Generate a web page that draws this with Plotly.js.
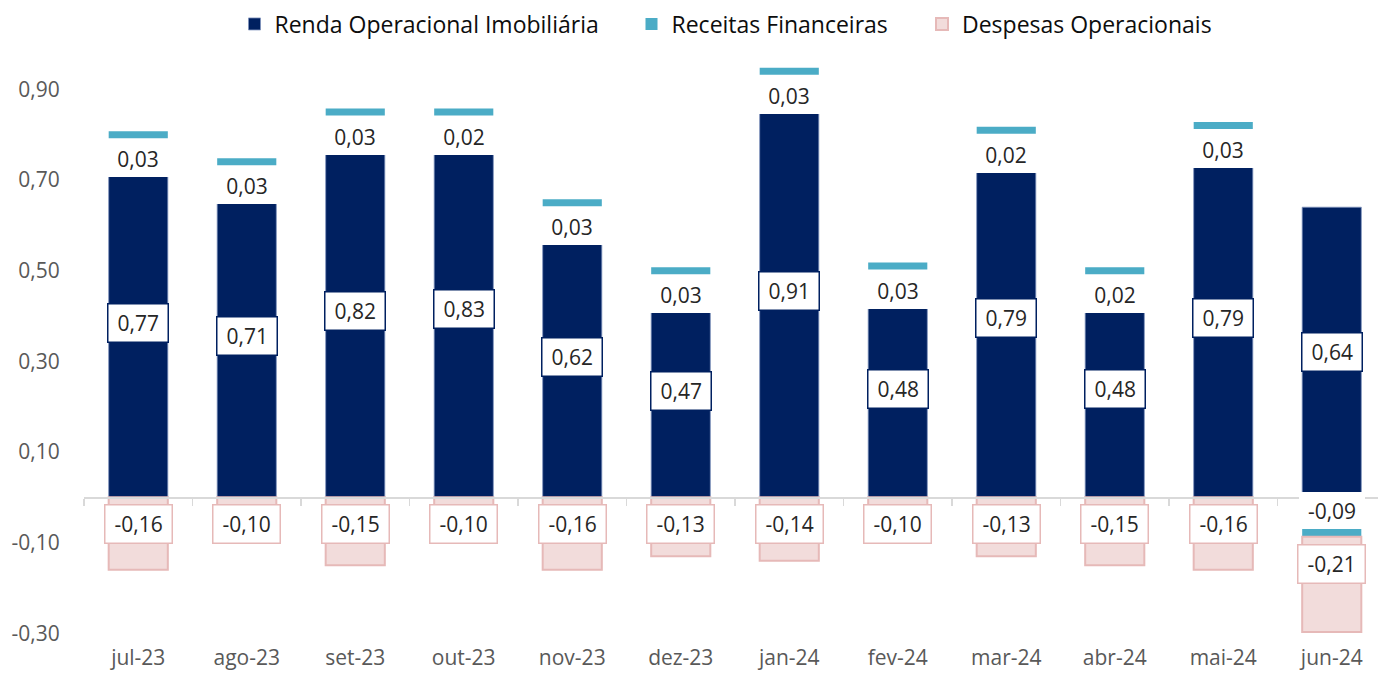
<!DOCTYPE html>
<html><head><meta charset="utf-8">
<script src="https://cdn.plot.ly/plotly-3.0.1.min.js"></script>
<style>html,body{margin:0;padding:0;background:#fff;} #chart{width:1378px;height:674px;}</style>
</head><body><div id="chart"></div>
<script>
// ---- data ----
const months = ['jul-23','ago-23','set-23','out-23','nov-23','dez-23','jan-24','fev-24','mar-24','abr-24','mai-24','jun-24'];
const rendaOperacional = [0.77,0.71,0.82,0.83,0.62,0.47,0.91,0.48,0.79,0.48,0.79,0.64];
const receitasFinanceiras = [0.03,0.03,0.03,0.02,0.03,0.03,0.03,0.03,0.02,0.02,0.03,-0.087];
const despesasOperacionais = [-0.16,-0.10,-0.15,-0.10,-0.16,-0.13,-0.14,-0.10,-0.13,-0.15,-0.16,-0.21];
const yTickVals = [-0.3,-0.1,0.1,0.3,0.5,0.7,0.9];
const yTickText = ['-0,30','-0,10','0,10','0,30','0,50','0,70','0,90'];
const seriesNames = ['Renda Operacional Imobiliária','Receitas Financeiras','Despesas Operacionais'];

// ---- styling / layout constants ----
const W = 1378, H = 674;
const plotLeft = 84, plotTop = 50, plotBottom = 650;
const catPx = 108.5, pxPerUnit = 453.3, zeroPx = 497.3;
const FONT = '"Open Sans", "Noto Sans", sans-serif';
const NAVY = '#002060', CYAN = '#4bacc6', PINK = '#f2dcdb', PINKLINE = '#e6b9b8';
const barW = 0.545;
const cyanT = 7 / pxPerUnit;
const legendCentersPx = [254.5, 651.5, 942];

const yMax = (zeroPx - plotTop) / pxPerUnit;
const yMin = -(plotBottom - zeroPx) / pxPerUnit;
const xRange = [-0.5, -0.5 + (W - plotLeft) / catPx];
const zeroPos = -yMin / (yMax - yMin);

const fmt = v => v.toFixed(2).replace('.', ',');
const canvas = document.createElement('canvas');
const ctx = canvas.getContext('2d');
ctx.font = '21px "Open Sans"';
const tw = s => ctx.measureText(s).width;

// cumulative end of the Receitas segment (positive stacks on Renda, negative goes down from 0)
const ends = rendaOperacional.map((r, i) => (receitasFinanceiras[i] >= 0 ? r + receitasFinanceiras[i] : receitasFinanceiras[i]));
const cyanBase = receitasFinanceiras.map((f, i) => (f >= 0 ? ends[i] - cyanT / 2 : ends[i] + 0.1 * cyanT));
const despStart = receitasFinanceiras.map(f => Math.min(0, f));

const traces = [
  {type:'bar', name:seriesNames[0], legend:'legend', x:months, y:rendaOperacional, base:0, width:barW,
   marker:{color:NAVY, line:{color:'#7f93bd', width:0.8}}, hoverinfo:'skip'},
  {type:'bar', name:seriesNames[1], legend:'legend2', x:months, y:months.map(() => cyanT), base:cyanBase, width:barW,
   marker:{color:CYAN, line:{width:0}}, hoverinfo:'skip'},
  {type:'bar', name:seriesNames[2], legend:'legend3', x:months, y:despesasOperacionais, base:despStart, width:barW,
   marker:{color:PINK, line:{color:PINKLINE, width:2}}, hoverinfo:'skip'},
  {type:'scatter', mode:'markers', x:months, y:rendaOperacional, xaxis:'x2', yaxis:'y',
   marker:{opacity:0}, showlegend:false, hoverinfo:'skip'}
];

const annotations = [];
const lblFont = {family:FONT, size:21, color:'#262626'};
months.forEach((m, i) => {
  const r = rendaOperacional[i], f = receitasFinanceiras[i], d = despesasOperacionais[i];
  annotations.push({x:m, y:r/2, text:fmt(r), showarrow:false, font:lblFont,
    bgcolor:'#ffffff', bordercolor:NAVY, borderwidth:1.5, borderpad:5,
    width:tw(fmt(r)) + 8, height:27});
  annotations.push({x:m, y:ends[i], yshift:(f >= 0 ? -24 : 26), text:fmt(f), showarrow:false, font:lblFont,
    bgcolor:'#ffffff', borderwidth:0, borderpad:5, width:56, height:27});
  annotations.push({x:m, y:despStart[i], yshift:-27, text:fmt(d), showarrow:false, font:lblFont,
    bgcolor:'#ffffff', bordercolor:PINKLINE, borderwidth:1.5, borderpad:5,
    width:tw(fmt(d)) + 8, height:27});
});

const legendBase = cx => ({orientation:'h', xref:'container', x:(cx - 20) / W, xanchor:'left',
  yref:'container', y:1 - 24 / H, yanchor:'middle',
  font:{family:FONT, size:23, color:'#0d0d0d'}, bgcolor:'rgba(0,0,0,0)', borderwidth:0});

const layout = {
  width:W, height:H,
  margin:{l:plotLeft, r:0, t:plotTop, b:H - plotBottom, pad:0},
  paper_bgcolor:'#ffffff', plot_bgcolor:'#ffffff',
  barmode:'overlay',
  font:{family:FONT},
  showlegend:true,
  legend:legendBase(legendCentersPx[0]),
  legend2:legendBase(legendCentersPx[1]),
  legend3:legendBase(legendCentersPx[2]),
  xaxis:{type:'category', categoryorder:'array', categoryarray:months, range:xRange,
    showline:false, showgrid:false, zeroline:false, ticks:'', automargin:false, ticklabelstandoff:-7,
    tickfont:{family:FONT, size:21, color:'#595959'}, fixedrange:true},
  xaxis2:{type:'category', categoryorder:'array', categoryarray:months, range:xRange,
    overlaying:'x', anchor:'free', position:zeroPos, showline:true, linecolor:'#d9d9d9', linewidth:1.5,
    ticks:'outside', tickson:'boundaries', ticklen:7, tickcolor:'#d9d9d9', tickwidth:1.5,
    showticklabels:false, showgrid:false, zeroline:false, fixedrange:true},
  yaxis:{range:[yMin, yMax], tickvals:yTickVals, ticktext:yTickText, ticks:'outside', ticklen:19,
    tickcolor:'rgba(0,0,0,0)', tickfont:{family:FONT, size:21, color:'#595959'},
    showgrid:false, zeroline:false, showline:false, automargin:false, fixedrange:true},
  annotations:annotations
};

Plotly.newPlot('chart', traces, layout, {displayModeBar:false, staticPlot:true});
</script>
</body></html>
